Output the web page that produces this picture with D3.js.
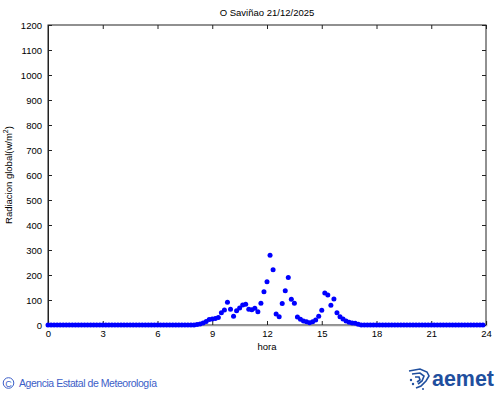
<!DOCTYPE html>
<html><head><meta charset="utf-8">
<script src="https://cdn.jsdelivr.net/npm/d3@7"></script>
<style>body{margin:0;background:#fff}svg{display:block}</style>
</head><body>
<script>
const title = "O Saviñao 21/12/2025";
const xTicks = [0,3,6,9,12,15,18,21,24];
const yTicks = [0,100,200,300,400,500,600,700,800,900,1000,1100,1200];
const stepMinutes = 10;
// global radiation (W/m2), one value every 10 minutes from 00:00
const radiation = [
0,0,0,0,0,0,0,0,0,0, 0,0,0,0,0,0,0,0,0,0, 0,0,0,0,0,0,0,0,0,0,
0,0,0,0,0,0,0,0,0,0, 0,0,0,0,0,0,0,0,0,
2,4,8,14,22,24,26,30,49,60,
91,63,35,57,68,80,83,63,61,67,
53,87,133,173,279,221,44,33,86,137,
190,103,87,32,23,16,13,9,13,20,
35,59,128,120,79,104,49,33,24,16,
11,8,7,3,
0,0,0,0,0,0,0,0,0,0, 0,0,0,0,0,0,0,0,0,0, 0,0,0,0,0,0,0,0,0,0, 0,0,0,0,0,0,0,0,0,0, 0
];

const W=500,H=395;
const m={l:48,r:486,t:25,b:325};
const svg=d3.select("body").append("svg").attr("width",W).attr("height",H)
  .style("font-family","'Liberation Sans',Arial,sans-serif");

const x=d3.scaleLinear().domain([0,24]).range([m.l,m.r]);
const y=d3.scaleLinear().domain([0,1200]).range([m.b,m.t]);

// frame
svg.append("rect").attr("x",m.l).attr("y",m.t).attr("width",m.r-m.l).attr("height",m.b-m.t)
  .attr("fill","none").attr("stroke","#222").attr("stroke-width",1);

// bottom axis
const gx=svg.append("g").attr("transform",`translate(0,${m.b})`)
  .call(d3.axisBottom(x).tickValues(xTicks).tickSize(-4).tickPadding(5).tickFormat(d3.format("d")));
gx.select(".domain").attr("stroke","#999").attr("stroke-width",1.5);
gx.selectAll(".tick line").attr("stroke","#222");
gx.selectAll("text").attr("font-size",9.5).attr("fill","#000").attr("font-family","'Liberation Sans',Arial,sans-serif");
// top ticks
const gt=svg.append("g").attr("transform",`translate(0,${m.t})`)
  .call(d3.axisTop(x).tickValues(xTicks).tickSize(-4).tickFormat(""));
gt.select(".domain").remove();
gt.selectAll(".tick line").attr("stroke","#222");

// left axis
const gy=svg.append("g").attr("transform",`translate(${m.l},0)`)
  .call(d3.axisLeft(y).tickValues(yTicks).tickSize(-4).tickPadding(6).tickFormat(d3.format("d")));
gy.select(".domain").attr("stroke","#222");
gy.selectAll(".tick line").attr("stroke","#222");
gy.selectAll("text").attr("font-size",9.5).attr("fill","#000").attr("font-family","'Liberation Sans',Arial,sans-serif");
// right ticks
const gr=svg.append("g").attr("transform",`translate(${m.r},0)`)
  .call(d3.axisRight(y).tickValues(yTicks).tickSize(-4).tickFormat(""));
gr.select(".domain").remove();
gr.selectAll(".tick line").attr("stroke","#222");

// points
svg.append("g").selectAll("circle").data(radiation).join("circle")
  .attr("cx",(d,i)=>x(i*stepMinutes/60)).attr("cy",d=>y(d))
  .attr("r",2.5).attr("fill","#0000ff");

// title & labels
svg.append("text").attr("x",267).attr("y",16).attr("text-anchor","middle")
  .attr("font-size",9.5).text(title);
svg.append("text").attr("x",267).attr("y",350).attr("text-anchor","middle")
  .attr("font-size",9.5).text("hora");
const yl=svg.append("text").attr("transform","translate(12,175) rotate(-90)")
  .attr("text-anchor","middle").attr("font-size",9.5);
yl.append("tspan").text("Radiacion global(w/m");
yl.append("tspan").attr("font-size",7).attr("dy",-4).text("2");
yl.append("tspan").attr("dy",4).text(")");

// footer
const foot=svg.append("g").attr("fill","#3c5ec8");
foot.append("circle").attr("cx",8.5).attr("cy",383).attr("r",5.3).attr("fill","none").attr("stroke","#3c5ec8").attr("stroke-width",1);
foot.append("text").attr("x",8.5).attr("y",386.5).attr("text-anchor","middle").attr("font-size",9).text("C");
foot.append("text").attr("x",19).attr("y",387).attr("font-size",10.5).attr("textLength",138)
  .text("Agencia Estatal de Meteorología");

// aemet logo
const logo=svg.append("g").attr("fill","#1f4f9e");
logo.append("text").attr("x",432).attr("y",386).attr("font-size",22).attr("font-weight","bold")
  .attr("font-family","'Liberation Sans',Arial,sans-serif").attr("textLength",62).attr("lengthAdjust","spacingAndGlyphs").text("aemet");
const ic=logo.append("g").attr("fill","none").attr("stroke","#1f4f9e").attr("stroke-width",1.6);
ic.append("path").attr("d","M409,371 L420,369 L427,372 L429,376 L426,381 L421,386 L416,388");
ic.append("path").attr("d","M412,374 L420,373 L424,376 L422,381 L418,384");
ic.append("path").attr("d","M415,377 L419,377 L420,380 L417,382");
logo.append("circle").attr("cx",411).attr("cy",380).attr("r",1.2);
logo.append("circle").attr("cx",413).attr("cy",384).attr("r",1.2);
logo.append("circle").attr("cx",423).attr("cy",389).attr("r",1);
</script>
</body></html>
